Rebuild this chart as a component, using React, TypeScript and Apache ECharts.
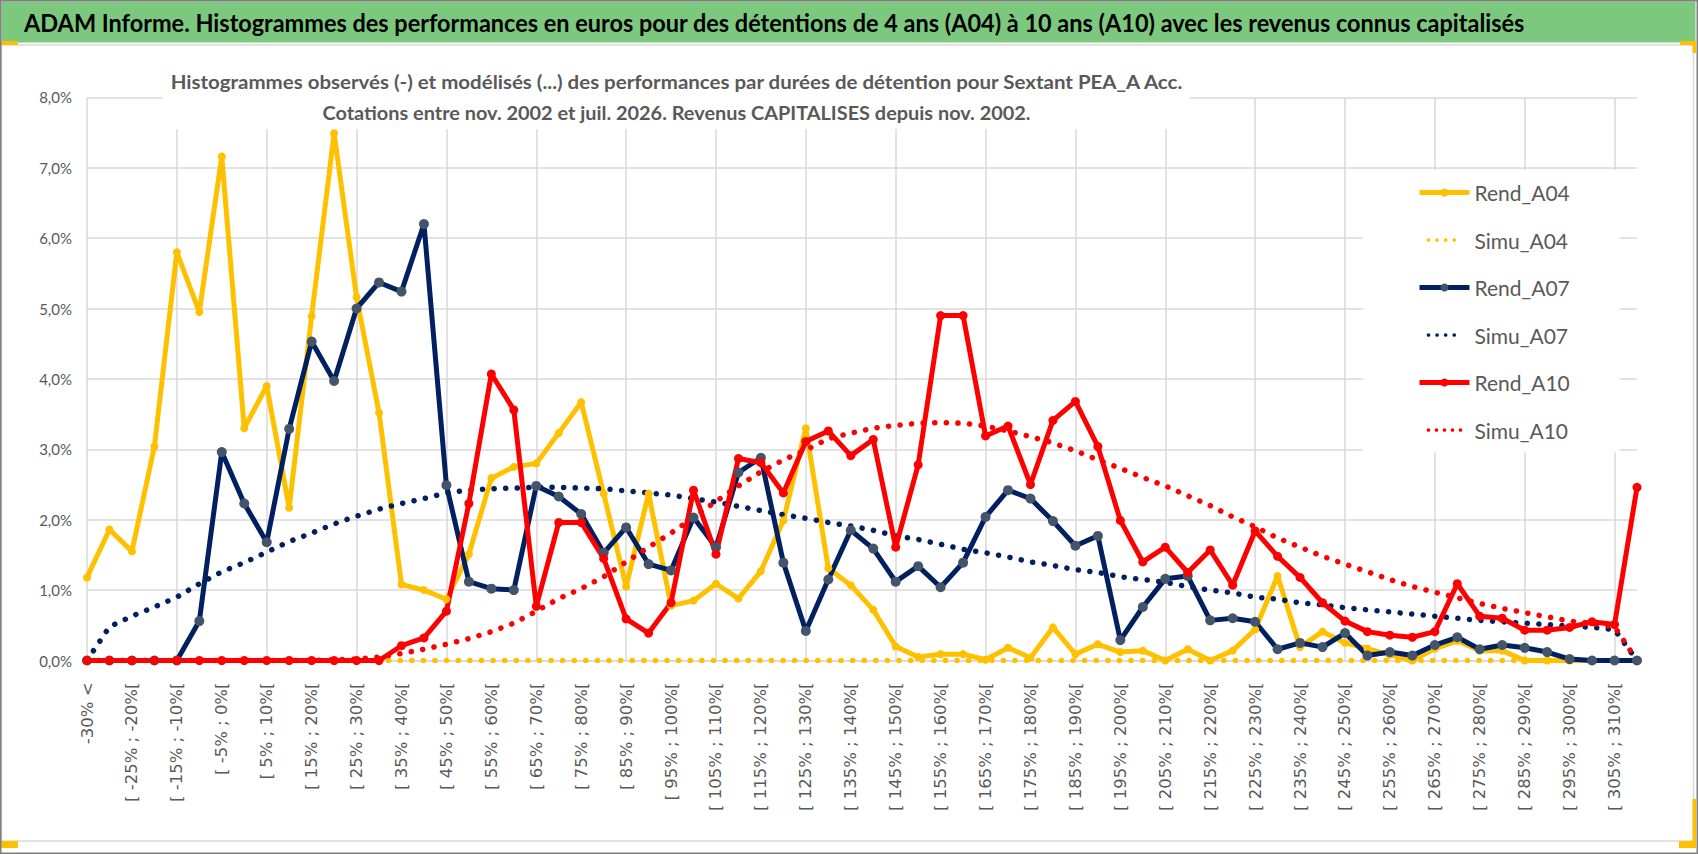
import React, { useEffect, useRef } from "react";
import * as echarts from "echarts";

const categories = [
  "-30% <", "[ -30% ; -25%[", "[ -25% ; -20%[", "[ -20% ; -15%[", "[ -15% ; -10%[", "[ -10% ; -5%[",
  "[ -5% ; 0%[", "[ 0% ; 5%[", "[ 5% ; 10%[", "[ 10% ; 15%[", "[ 15% ; 20%[", "[ 20% ; 25%[",
  "[ 25% ; 30%[", "[ 30% ; 35%[", "[ 35% ; 40%[", "[ 40% ; 45%[", "[ 45% ; 50%[", "[ 50% ; 55%[",
  "[ 55% ; 60%[", "[ 60% ; 65%[", "[ 65% ; 70%[", "[ 70% ; 75%[", "[ 75% ; 80%[", "[ 80% ; 85%[",
  "[ 85% ; 90%[", "[ 90% ; 95%[", "[ 95% ; 100%[", "[ 100% ; 105%[", "[ 105% ; 110%[", "[ 110% ; 115%[",
  "[ 115% ; 120%[", "[ 120% ; 125%[", "[ 125% ; 130%[", "[ 130% ; 135%[", "[ 135% ; 140%[", "[ 140% ; 145%[",
  "[ 145% ; 150%[", "[ 150% ; 155%[", "[ 155% ; 160%[", "[ 160% ; 165%[", "[ 165% ; 170%[", "[ 170% ; 175%[",
  "[ 175% ; 180%[", "[ 180% ; 185%[", "[ 185% ; 190%[", "[ 190% ; 195%[", "[ 195% ; 200%[", "[ 200% ; 205%[",
  "[ 205% ; 210%[", "[ 210% ; 215%[", "[ 215% ; 220%[", "[ 220% ; 225%[", "[ 225% ; 230%[", "[ 230% ; 235%[",
  "[ 235% ; 240%[", "[ 240% ; 245%[", "[ 245% ; 250%[", "[ 250% ; 255%[", "[ 255% ; 260%[", "[ 260% ; 265%[",
  "[ 265% ; 270%[", "[ 270% ; 275%[", "[ 275% ; 280%[", "[ 280% ; 285%[", "[ 285% ; 290%[", "[ 290% ; 295%[",
  "[ 295% ; 300%[", "[ 300% ; 305%[", "[ 305% ; 310%[", "310% >="
];

const rendA04 = [
  1.18, 1.86, 1.55, 3.04, 5.8, 4.95, 7.16, 3.3, 3.9, 2.17, 4.89, 7.49, 5.16, 3.52, 1.08, 1.0, 0.87, 1.51,
  2.59, 2.75, 2.8, 3.23, 3.67, 2.37, 1.05, 2.37, 0.78, 0.85, 1.09, 0.88, 1.27, 1.99, 3.3, 1.31, 1.07, 0.72,
  0.2, 0.05, 0.09, 0.09, 0.01, 0.18, 0.04, 0.47, 0.09, 0.23, 0.12, 0.14, 0.0, 0.16, 0.0, 0.14, 0.44, 1.2,
  0.19, 0.41, 0.25, 0.17, 0.08, 0.0, 0.17, 0.28, 0.14, 0.14, 0.0, 0.0, 0.0, 0.0, 0.0, 0.0
];

const simuA04 = [
  0, 0, 0, 0, 0, 0, 0, 0, 0, 0, 0, 0, 0, 0, 0, 0, 0, 0, 0, 0, 0, 0, 0, 0, 0, 0, 0, 0, 0, 0, 0, 0, 0, 0, 0,
  0, 0, 0, 0, 0, 0, 0, 0, 0, 0, 0, 0, 0, 0, 0, 0, 0, 0, 0, 0, 0, 0, 0, 0, 0, 0, 0, 0, 0, 0, 0, 0, 0, 0, 0
];

const rendA07 = [
  0, 0, 0, 0, 0, 0.56, 2.96, 2.23, 1.68, 3.29, 4.53, 3.97, 5.0, 5.37, 5.24, 6.2, 2.49, 1.12,
  1.02, 1.0, 2.48, 2.33, 2.08, 1.53, 1.89, 1.37, 1.28, 2.03, 1.61, 2.67, 2.88, 1.39, 0.42, 1.15, 1.85, 1.59,
  1.12, 1.34, 1.04, 1.39, 2.04, 2.42, 2.3, 1.98, 1.63, 1.77, 0.29, 0.76, 1.16, 1.2, 0.57, 0.6, 0.55, 0.16,
  0.25, 0.19, 0.39, 0.07, 0.12, 0.07, 0.22, 0.33, 0.16, 0.22, 0.18, 0.12, 0.02, 0.0, 0.0, 0.0
];

const simuA07 = [
  0.0, 0.48, 0.63, 0.76, 0.9, 1.09, 1.26, 1.39, 1.54, 1.69, 1.81, 1.94, 2.05, 2.15, 2.23, 2.3, 2.38, 2.42,
  2.44, 2.45, 2.46, 2.46, 2.45, 2.44, 2.41, 2.38, 2.35, 2.3, 2.25, 2.19, 2.13, 2.07, 2.02, 1.96, 1.91, 1.85,
  1.77, 1.72, 1.65, 1.58, 1.53, 1.47, 1.4, 1.35, 1.29, 1.25, 1.19, 1.15, 1.11, 1.05, 1.0, 0.96, 0.9, 0.87,
  0.82, 0.79, 0.75, 0.72, 0.69, 0.66, 0.63, 0.6, 0.57, 0.55, 0.53, 0.51, 0.49, 0.47, 0.44, 0.0
];

const rendA10 = [
  0, 0, 0, 0, 0, 0, 0, 0, 0, 0, 0, 0, 0, 0, 0.21, 0.32, 0.7, 2.23,
  4.07, 3.56, 0.77, 1.96, 1.96, 1.45, 0.59, 0.39, 0.82, 2.42, 1.51, 2.87, 2.81, 2.38, 3.11, 3.26, 2.91, 3.14,
  1.61, 2.78, 4.9, 4.9, 3.19, 3.33, 2.5, 3.41, 3.68, 3.04, 1.99, 1.4, 1.61, 1.25, 1.57, 1.07, 1.84, 1.48,
  1.18, 0.82, 0.56, 0.41, 0.36, 0.33, 0.41, 1.09, 0.63, 0.6, 0.43, 0.43, 0.47, 0.55, 0.51, 2.46
];

const simuA10 = [
  0, 0, 0, 0, 0, 0, 0, 0, 0, 0, 0, 0.01, 0.02, 0.05, 0.1, 0.16, 0.23, 0.31,
  0.41, 0.53, 0.7, 0.88, 1.02, 1.19, 1.4, 1.61, 1.81, 2.03, 2.26, 2.48, 2.68, 2.85, 2.99, 3.15, 3.23, 3.3,
  3.34, 3.37, 3.38, 3.37, 3.33, 3.26, 3.18, 3.09, 2.98, 2.85, 2.73, 2.6, 2.48, 2.34, 2.2, 2.04, 1.9, 1.74,
  1.61, 1.48, 1.37, 1.26, 1.15, 1.05, 0.97, 0.89, 0.81, 0.74, 0.68, 0.62, 0.56, 0.53, 0.48, 0.0
];

const yTicks = [0, 1, 2, 3, 4, 5, 6, 7, 8];

const TITLE =
  "ADAM Informe. Histogrammes des performances en euros pour des détentions de 4 ans (A04) à 10 ans (A10) avec les revenus connus capitalisés";
const SUB1 =
  "Histogrammes observés (-) et modélisés (...) des performances par durées de détention pour Sextant PEA_A Acc.";
const SUB2 = "Cotations entre nov. 2002 et juil. 2026. Revenus CAPITALISES depuis nov. 2002.";

const YELLOW = "#FFC000";
const NAVY = "#002060";
const RED = "#FF0000";
const GRID = "#D9D9D9";
const TXT = "#595959";

function textWidth(text: string, font: string): number {
  const ctx = document.createElement("canvas").getContext("2d");
  if (!ctx) return 0;
  ctx.font = font;
  return ctx.measureText(text).width;
}

function fitScale(text: string, font: string, target: number): number {
  const w = textWidth(text, font);
  return w > 0 ? target / w : 1;
}

function dots(n: number, step: number): string {
  const r = 2.6;
  let d = "path://M0 0 Z M50 14 Z";
  for (let k = 0; k < n; k++) {
    const cx = r + k * step;
    d += ` M${cx - r} 7 A${r} ${r} 0 1 0 ${cx + r} 7 A${r} ${r} 0 1 0 ${cx - r} 7 Z`;
  }
  return d;
}

export default function App() {
  const ref = useRef<HTMLDivElement>(null);

  useEffect(() => {
    document.body.style.margin = "0";
    document.body.style.overflow = "hidden";
    if (!ref.current) return;
    const chart = echarts.init(ref.current, undefined, { renderer: "svg" });

    const titleFont = "bold 25.5px Lato";
    const subFont = "bold 19.5px Lato";
    const sTitle = fitScale(TITLE, titleFont, 1501);
    const sSub1 = fitScale(SUB1, subFont, 1014);
    const sSub2 = fitScale(SUB2, subFont, 709);

    const rend = (name: string, data: number[], line: string, marker: string, size: number) => ({
      name,
      type: "line",
      data,
      symbol: "circle",
      symbolSize: size,
      showSymbol: true,
      lineStyle: { color: line, width: 5 },
      itemStyle: { color: marker },
      emphasis: { disabled: true },
      z: 2,
    });
    const simu = (name: string, data: number[], color: string) => ({
      name,
      type: "line",
      data,
      symbol: "none",
      lineStyle: { color, width: 5.5, type: [0.1, 11.5], cap: "round" },
      itemStyle: { color },
      emphasis: { disabled: true },
      z: 2,
    });

    const option: any = {
      animation: false,
      backgroundColor: "#ffffff",
      grid: { left: 87, right: 61, top: 97.3, bottom: 193.5, containLabel: false },
      xAxis: {
        type: "category",
        data: categories,
        boundaryGap: false,
        axisLine: { show: true, lineStyle: { color: GRID, width: 1.5 } },
        axisTick: { show: false },
        axisLabel: {
          interval: 1,
          rotate: 90,
          margin: 22,
          color: TXT,
          fontFamily: "DejaVu Sans",
          fontSize: 16.5,
        },
        splitLine: { show: true, interval: 3, lineStyle: { color: GRID, width: 1.5 } },
      },
      yAxis: {
        type: "value",
        min: yTicks[0],
        max: yTicks[yTicks.length - 1],
        interval: 1,
        axisLine: { show: false },
        axisTick: { show: false },
        axisLabel: {
          margin: 15,
          color: TXT,
          fontFamily: "Lato",
          fontSize: 15,
          formatter: (v: number) => v.toFixed(1).replace(".", ",") + "%",
        },
        splitLine: { show: true, lineStyle: { color: GRID, width: 1.5 } },
      },
      legend: {
        orient: "vertical",
        left: 1363,
        top: 170,
        padding: [12, 50, 12, 54],
        itemWidth: 50,
        itemHeight: 10,
        itemGap: 26.5,
        backgroundColor: "#ffffff",
        selectedMode: false,
        lineStyle: { width: 5 },
        textStyle: { fontFamily: "Lato", fontSize: 21, color: TXT },
        data: [
          { name: "Rend_A04" },
          { name: "Simu_A04", icon: dots(4, 12) },
          { name: "Rend_A07" },
          { name: "Simu_A07", icon: dots(4, 12) },
          { name: "Rend_A10" },
          { name: "Simu_A10", icon: dots(5, 11.2) },
        ],
      },
      graphic: [
        {
          type: "rect",
          z: 0,
          shape: { x: 1.5, y: 45, width: 1692, height: 796 },
          style: { fill: "#ffffff", stroke: GRID, lineWidth: 1.5 },
          silent: true,
        },
        {
          type: "rect",
          z: 1,
          shape: { x: 163, y: 46, width: 1027, height: 83 },
          style: { fill: "#ffffff" },
          silent: true,
        },
        {
          type: "rect",
          z: 10,
          shape: { x: 1.5, y: 1.5, width: 1694, height: 41 },
          style: { fill: "#7DC87F" },
          silent: true,
        },
        {
          type: "text",
          z: 11,
          x: 24,
          y: 22.5,
          scaleX: sTitle,
          style: {
            text: TITLE,
            fill: "#000000",
            fontFamily: "Lato",
            fontWeight: "bold",
            fontSize: 25.5,
            align: "left",
            verticalAlign: "middle",
            textAlign: "left",
            textVerticalAlign: "middle",
          },
          silent: true,
        },
        {
          type: "text",
          z: 11,
          x: 676.5,
          y: 81,
          scaleX: sSub1,
          style: {
            text: SUB1,
            fill: TXT,
            fontFamily: "Lato",
            fontWeight: "bold",
            fontSize: 19.5,
            align: "center",
            verticalAlign: "middle",
            textAlign: "center",
            textVerticalAlign: "middle",
          },
          silent: true,
        },
        {
          type: "text",
          z: 11,
          x: 676.5,
          y: 113,
          scaleX: sSub2,
          style: {
            text: SUB2,
            fill: TXT,
            fontFamily: "Lato",
            fontWeight: "bold",
            fontSize: 19.5,
            align: "center",
            verticalAlign: "middle",
            textAlign: "center",
            textVerticalAlign: "middle",
          },
          silent: true,
        },
        { type: "rect", z: 12, shape: { x: 1, y: 41, width: 17, height: 4 }, style: { fill: YELLOW }, silent: true },
        { type: "rect", z: 12, shape: { x: 1680, y: 41, width: 16, height: 4 }, style: { fill: YELLOW }, silent: true },
        { type: "rect", z: 12, shape: { x: 1692.5, y: 41, width: 3.5, height: 12 }, style: { fill: YELLOW }, silent: true },
        { type: "rect", z: 12, shape: { x: 1, y: 841, width: 17, height: 7 }, style: { fill: YELLOW }, silent: true },
        { type: "rect", z: 12, shape: { x: 1679, y: 841, width: 17, height: 7 }, style: { fill: YELLOW }, silent: true },
        { type: "rect", z: 12, shape: { x: 1692.5, y: 799, width: 3.5, height: 49 }, style: { fill: YELLOW }, silent: true },
        {
          type: "rect",
          z: 13,
          shape: { x: 0.75, y: 0.75, width: 1696.5, height: 852.5 },
          style: { fill: "none", stroke: "#7F7F7F", lineWidth: 1.5 },
          silent: true,
        },
      ],
      series: [
        rend("Rend_A04", rendA04, YELLOW, YELLOW, 8),
        simu("Simu_A04", simuA04, YELLOW),
        rend("Rend_A07", rendA07, NAVY, "#44546A", 10),
        simu("Simu_A07", simuA07, NAVY),
        rend("Rend_A10", rendA10, RED, RED, 9),
        simu("Simu_A10", simuA10, RED),
      ],
    };

    chart.setOption(option);
    return () => chart.dispose();
  }, []);

  return <div ref={ref} style={{ width: 1698, height: 854 }} />;
}
